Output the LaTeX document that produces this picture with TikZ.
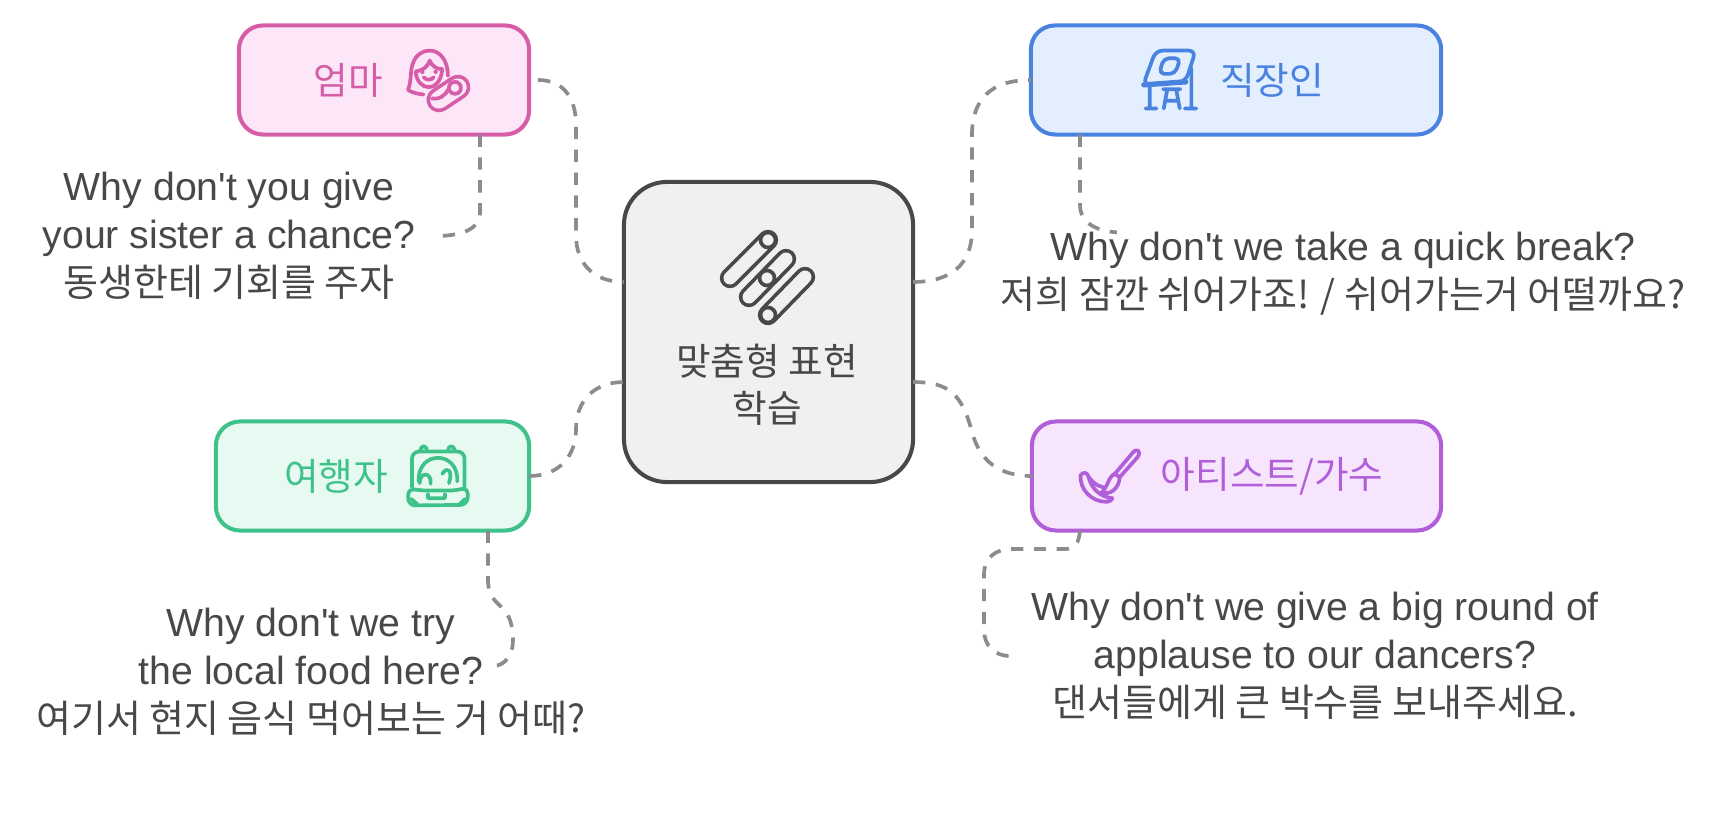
\documentclass[tikz,border=0pt]{standalone}
\usepackage{fontspec}
\newfontfamily\en{Liberation Sans}
\newfontfamily\kr{Noto Sans CJK KR}
\newcommand{\krline}{\fontsize{10.8}{13.66}\selectfont\kr}
\usetikzlibrary{arrows.meta,positioning,calc}
\definecolor{ink}{HTML}{484848}
\definecolor{wire}{HTML}{8C8C8C}
\definecolor{hubfill}{HTML}{F0F0F0}
\definecolor{momline}{HTML}{D65DA8}
\definecolor{momfill}{HTML}{FDE6F7}
\definecolor{workline}{HTML}{4A82E0}
\definecolor{workfill}{HTML}{E3EFFF}
\definecolor{tripline}{HTML}{3FC28A}
\definecolor{tripfill}{HTML}{E6FAF1}
\definecolor{artline}{HTML}{B05FD8}
\definecolor{artfill}{HTML}{F7E4FD}

\begin{document}
\begin{tikzpicture}[
  x=0.01cm, y=-0.01cm,
  card/.style={draw, line width=1.15pt, rounded corners=0.24cm, minimum width=2.9cm,
               minimum height=1.09cm, outer sep=0pt, inner sep=0pt},
  hub/.style={draw=ink, fill=hubfill, line width=1.15pt, rounded corners=0.43cm,
              minimum width=2.89cm, minimum height=3cm, outer sep=0pt, inner sep=0pt},
  lbl/.style={font=\fontsize{10.7}{13.4}\selectfont\kr, inner sep=0pt, outer sep=0pt},
  txt/.style={font=\fontsize{11.15}{13.66}\selectfont\en, text=ink, align=center, inner sep=0pt, outer sep=0pt},
  wirepath/.style={draw=wire, line width=1.05pt, dash pattern=on 3.5pt off 3pt},
  icon/.style={line width=1.05pt, line cap=round, line join=round},
  capsule/.style={line width=1.05pt, double distance=3.7pt, line cap=round},
]
\useasboundingbox (0,0) rectangle (1728,816);

% --- Boxes ---
\node[hub] (center) at (768.5,332) {};
\node[card, draw=momline, fill=momfill, minimum width=2.9cm] (mom) at (384,80) {};
\node[card, draw=workline, fill=workfill, minimum width=4.1cm] (worker) at (1236,80) {};
\node[card, draw=tripline, fill=tripfill, minimum width=3.13cm] (traveler) at (372.5,476) {};
\node[card, draw=artline, fill=artfill, minimum width=4.09cm] (artist) at (1236.5,476) {};

% --- Box labels ---
\node[lbl, text=momline] (momlbl) at (348,80) {엄마};
\node[lbl, text=workline] (workerlbl) at (1272,80) {직장인};
\node[lbl, text=tripline] (travelerlbl) at (336,476) {여행자};
\node[lbl, text=artline] (artistlbl) at (1272,476) {아티스트/가수};
\node[lbl, text=ink, align=center] (centerlbl) at (767,385) {맞춤형 표현\\학습};

% --- Phrases ---
\node[txt] (momtxt) at (229,236) {Why don't you give\\your sister a chance?\\{\krline 동생한테 기회를 주자}};
\node[txt] (workertxt) at (1343,274) {Why don't we take a quick break?\\{\krline 저희 잠깐 쉬어가죠! / 쉬어가는거 어떨까요?}};
\node[txt] (travelertxt) at (311,672) {Why don't we try\\the local food here?\\{\krline 여기서 현지 음식 먹어보는 거 어때?}};
\node[txt] (artisttxt) at (1315,656) {Why don't we give a big round of\\applause to our dancers?\\{\krline 댄서들에게 큰 박수를 보내주세요.}};

% --- Connectors to the centre ---
\draw[wirepath] ([xshift=.09cm]mom.east) .. controls +(27,0) and (576,100) .. (576,125)
  -- (576,235) .. controls (576,265) and (595,282) .. ([yshift=.5cm]center.west);
\draw[wirepath] ([yshift=.5cm]center.east) .. controls +(37,0) and (972,265) .. (972,230)
  -- (972,135) .. controls (972,100) and (990,80) .. (worker.west);
\draw[wirepath] (traveler.east) .. controls +(31,0) and (576,455) .. (576,429)
  .. controls (576,400) and (595,382) .. ([yshift=-.5cm]center.west);
\draw[wirepath] ([yshift=-.5cm]center.east) .. controls +(37,0) and (962,395) .. (972,432)
  .. controls (980,462) and (1000,476) .. (artist.west);

% --- Connectors to the phrases ---
\draw[wirepath] ([xshift=.96cm]mom.south) -- (480,212) .. controls (480,228) and (465,235) .. ([xshift=.24cm]momtxt.east);
\draw[wirepath] ([xshift=-1.56cm]worker.south) -- (1080,205) .. controls (1080,222) and (1095,231) .. ([xshift=-2.26cm]workertxt.north);
\draw[wirepath] ([xshift=1.155cm]traveler.south) -- (488,580) .. controls (488,610) and (513,600) .. (513,640)
  .. controls (513,655) and (505,666) .. ([xshift=-.93cm,yshift=.06cm]travelertxt.east);
\draw[wirepath] ([xshift=-1.565cm]artist.south) .. controls (1079,543) and (1075,549) .. (1065,549)
  -- (1012,549) .. controls (995,549) and (984,558) .. (984,575) -- (984,630)
  .. controls (984,645) and (994,656) .. ([xshift=-.21cm]artisttxt.west);

% --- Icon: centre ---
\draw[capsule, draw=ink, double=hubfill] (768,240) -- (730,278);
\draw[capsule, draw=ink, double=hubfill] (786,259) -- (749,297);
\draw[capsule, draw=ink, double=hubfill] (805,277) -- (768,315);
\draw[icon, draw=ink, fill=hubfill] (768,240) circle (7.5);
\draw[icon, draw=ink, fill=hubfill] (767,278) circle (7.5);
\draw[icon, draw=ink, fill=hubfill] (768,315) circle (7.5);

% --- Icon: mother ---
\begin{scope}[shift={(200,0)}, x=0.00333cm, y=-0.00333cm]
  \draw[icon, draw=momline] (672,284) .. controls (650,282) and (635,277) .. (625,270)
    .. controls (637,240) and (630,215) .. (640,190) .. controls (650,160) and (675,152) .. (690,152)
    .. controls (720,152) and (745,180) .. (745,228);
  \draw[icon, draw=momline] (648,215) .. controls (670,212) and (685,200) .. (690,182)
    .. controls (698,200) and (712,208) .. (728,208);
  \draw[icon, draw=momline] (648,215) .. controls (650,245) and (668,262) .. (688,262)
    .. controls (705,262) and (725,245) .. (728,208);
  \fill[momline] (668,216) circle (6.5) (708,216) circle (6.5);
  \draw[icon, draw=momline] (672,232) .. controls (680,242) and (695,242) .. (702,232);
  \draw[capsule, draw=momline, double=momfill, double distance=5pt] (718,300) -- (775,262);
  \draw[icon, draw=momline] (766,264) circle (18);
  \draw[icon, draw=momline] (697,296) .. controls (715,300) and (735,290) .. (745,270);
\end{scope}

% --- Icon: drafting table ---
\begin{scope}[shift={(1000,0)}, x=0.00333cm, y=-0.00333cm]
  \draw[icon, draw=workline, rounded corners=2pt] (468,152) -- (588,152) -- (558,245) -- (430,255) -- cycle;
  \draw[icon, draw=workline, line width=1.5pt] (432,255) -- (558,246);
  \draw[icon, draw=workline, rounded corners=1.5pt] (492,175) -- (542,175) -- (526,222) -- (478,222) -- cycle;
  \draw[icon, draw=workline] (450,255) -- (450,325) (437,326) -- (470,326)
    (575,205) -- (575,325) (555,326) -- (590,326)
    (490,268) -- (542,268) (502,272) -- (492,326) (530,272) -- (540,326) (497,303) -- (535,303);
\end{scope}

% --- Icon: suitcase ---
\begin{scope}[shift={(200,400)}, x=0.00333cm, y=-0.00333cm]
  \draw[icon, draw=tripline, rounded corners=2pt] (637,262) -- (637,155) -- (795,155) -- (795,262);
  \draw[icon, draw=tripline] (662,152) .. controls (662,135) and (682,135) .. (682,152)
    (745,152) .. controls (745,135) and (765,135) .. (765,152);
  \draw[icon, draw=tripline] (657,245) .. controls (652,150) and (778,150) .. (773,245)
    (660,250) .. controls (660,215) and (697,215) .. (693,252)
    (728,222) .. controls (745,195) and (760,215) .. (748,250);
  \draw[icon, draw=tripline, rounded corners=2pt] (625,265) -- (660,272) -- (772,272) -- (805,262)
    -- (804,315) -- (626,317) -- cycle;
  \draw[icon, draw=tripline] (685,282) -- (685,295) -- (736,295) -- (736,282)
    (635,297) -- (655,315) (778,315) -- (797,297);
\end{scope}

% --- Icon: brush ---
\begin{scope}[shift={(960,400)}, x=0.00333cm, y=-0.00333cm]
  \draw[icon, draw=artline] (522,155) .. controls (532,145) and (545,155) .. (535,170)
    -- (480,232) -- (465,222) -- cycle;
  \draw[icon, draw=artline] (465,222) .. controls (445,230) and (445,262) .. (425,278)
    .. controls (452,287) and (478,265) .. (480,232);
  \draw[icon, draw=artline] (430,262) .. controls (410,258) and (395,245) .. (385,228)
    .. controls (382,218) and (370,215) .. (362,226)
    .. controls (360,270) and (395,306) .. (440,306) .. controls (450,305) and (458,300) .. (458,295)
    .. controls (425,292) and (395,270) .. (385,228);
\end{scope}
\end{tikzpicture}
\end{document}
